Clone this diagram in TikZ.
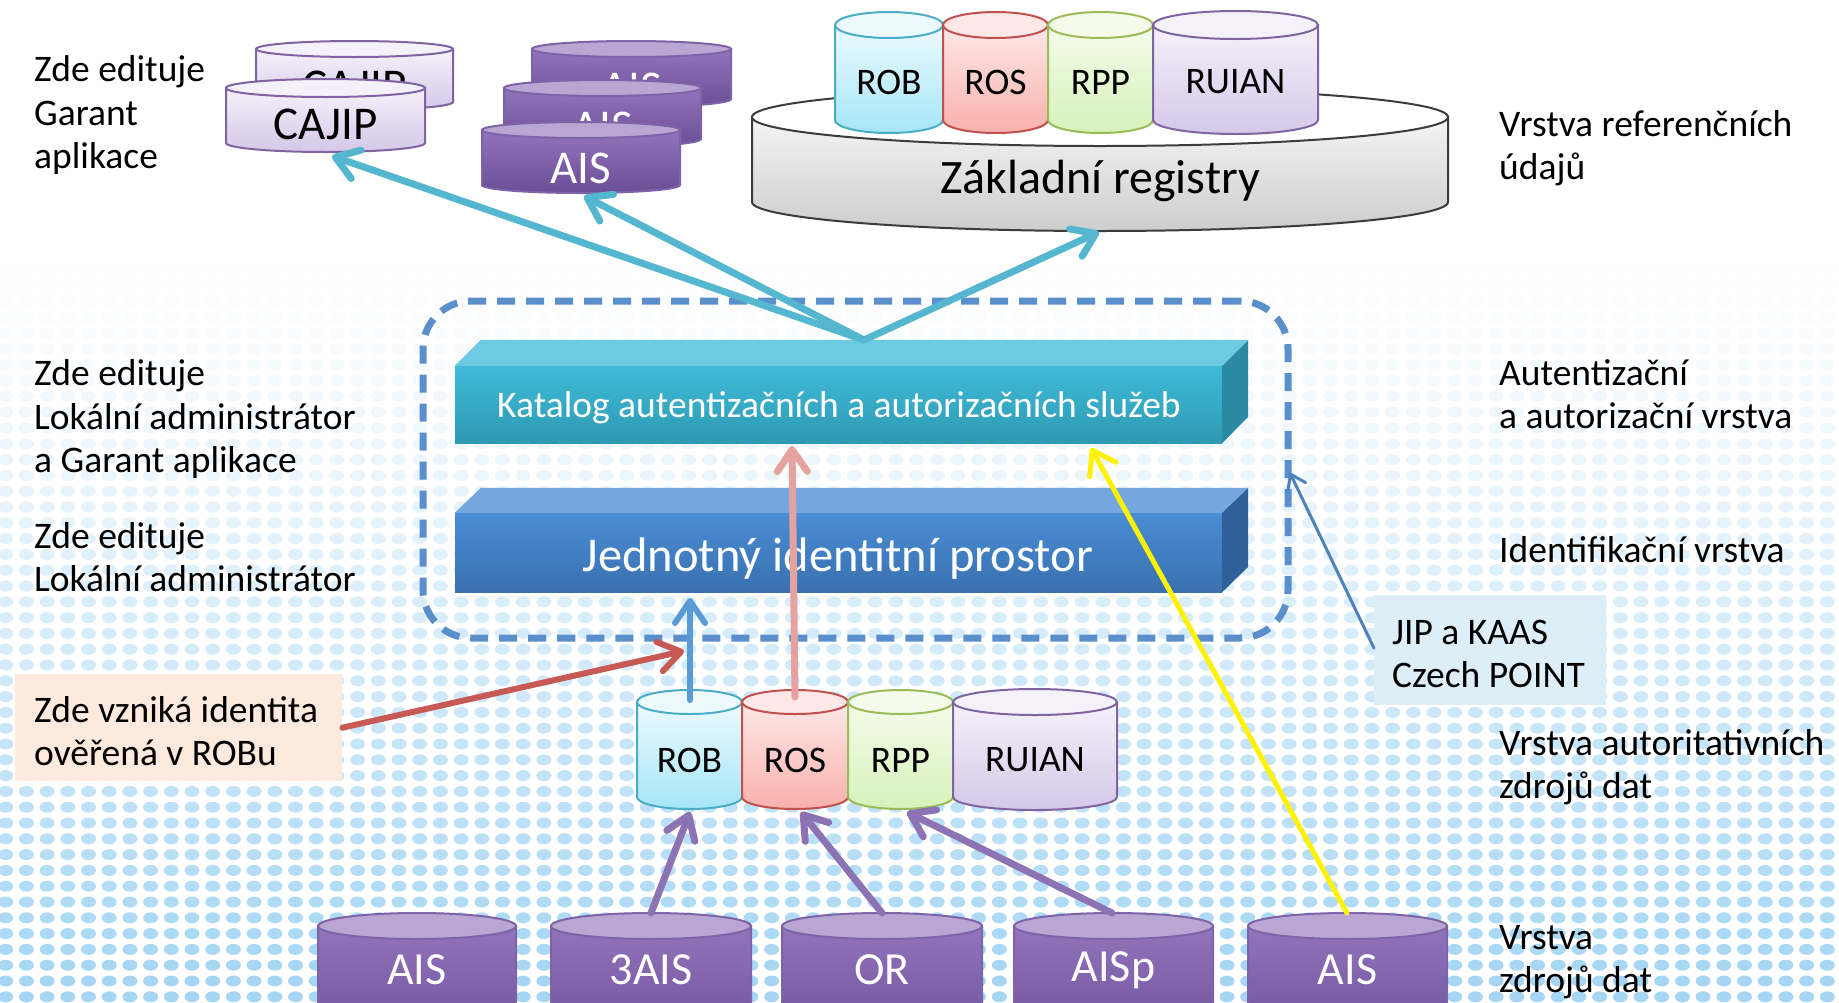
\documentclass[tikz,border=0pt]{standalone}
\usepackage{fontspec}
\setmainfont{Carlito}
\usetikzlibrary{arrows.meta}
\definecolor{dotc}{RGB}{166,214,244}
\definecolor{peach}{RGB}{253,234,222}
\definecolor{jipfill}{RGB}{222,238,246}
\definecolor{dashc}{RGB}{91,143,203}
\definecolor{cyanarr}{RGB}{85,183,207}
\definecolor{bluearr}{RGB}{91,155,213}
\definecolor{redarr}{RGB}{200,90,85}
\definecolor{pinkarr}{RGB}{229,163,160}
\definecolor{purarr}{RGB}{140,115,180}
\definecolor{jiparr}{RGB}{79,129,189}
% cylinder colours
\definecolor{robT}{RGB}{236,250,254}\definecolor{robB}{RGB}{166,230,248}\definecolor{robD}{RGB}{75,172,198}
\definecolor{rosT}{RGB}{253,232,231}\definecolor{rosB}{RGB}{248,176,172}\definecolor{rosD}{RGB}{192,80,77}
\definecolor{rppT}{RGB}{244,251,234}\definecolor{rppB}{RGB}{214,242,186}\definecolor{rppD}{RGB}{155,187,89}
\definecolor{ruiT}{RGB}{245,241,250}\definecolor{ruiB}{RGB}{212,200,232}\definecolor{ruiD}{RGB}{128,100,162}
\definecolor{aisT}{RGB}{146,116,188}\definecolor{aisB}{RGB}{106,78,148}\definecolor{aisD}{RGB}{125,99,168}
\definecolor{aisE}{RGB}{185,166,211}
\definecolor{zrT}{RGB}{244,244,244}\definecolor{zrB}{RGB}{205,205,205}\definecolor{zrD}{RGB}{60,60,60}
\definecolor{katF1}{RGB}{64,186,216}\definecolor{katF2}{RGB}{46,154,178}
\definecolor{katTop}{RGB}{108,203,227}\definecolor{katSide}{RGB}{42,138,163}
\definecolor{jipF1}{RGB}{74,141,211}\definecolor{jipF2}{RGB}{57,112,176}
\definecolor{jipTop}{RGB}{115,167,221}\definecolor{jipSide}{RGB}{47,96,154}
% #1 x1, #2 x2, #3 ytop, #4 ybot, #5 ry, #6 body top, #7 body bottom, #8 border, #9 top ellipse fill
\newcommand\dbcyl[9]{%
  \pgfmathsetmacro\cxx{(#1+#2)/2}\pgfmathsetmacro\rxx{(#2-#1)/2}%
  \draw[draw=#8, line width=2pt, top color=#6, bottom color=#7]
    (#1,#3) -- (#1,#4) arc[start angle=180, end angle=0, x radius=\rxx, y radius=#5] -- (#2,#3) -- cycle;
  \draw[draw=#8, line width=2pt, fill=#9] (\cxx,#3) ellipse[x radius=\rxx, y radius=#5];
}
\begin{document}
\begin{tikzpicture}[x=1pt,y=-1pt,
  lbl/.style={anchor=west, align=left, inner sep=0pt, font=\fontsize{37.5}{43.5}\selectfont},
  cyltxt/.style={inner sep=0pt, font=\fontsize{37.5}{44}\selectfont},
  bigtxt/.style={inner sep=0pt, font=\fontsize{47}{54}\selectfont},
  lowtxt/.style={inner sep=0pt, font=\fontsize{46}{54}\selectfont, text=white},
  arr/.style={line cap=round, -{Straight Barb[length=22pt,width=30pt,round]}},
  cyanline/.style={arr, draw=cyanarr, line width=7pt},
  purline/.style={arr, draw=purarr, line width=7pt}]
\useasboundingbox (0,0) rectangle (1839,1002);
\clip (0,0) rectangle (1839,1002);
\fill[white] (0,0) rectangle (1839,1002);
% dotted background
\foreach \r in {0,...,46}{
  \pgfmathsetmacro\yy{270+\r*15.8}
  \pgfmathsetmacro\pp{100*(min(1,(\yy-255)/720))^1.2}
  \fill[dotc!\pp!white] \foreach \c in {0,...,89}{(5.7+\c*20.7,\yy) ellipse[x radius=7.5,y radius=5.5]};
}
% ---------- top layer ----------
\dbcyl{256}{453}{49}{102}{8}{ruiT}{ruiB}{ruiD}{ruiT}
\node[bigtxt] (cajipB) at (354.5,86) {CAJIP};
\dbcyl{226}{425}{88}{143}{9}{ruiT}{ruiB}{ruiD}{ruiT}
\node[bigtxt] (cajip) at (325.5,124) {CAJIP};
\dbcyl{532}{731}{49}{99}{8}{aisT}{aisB}{aisD}{aisE}
\node[bigtxt, white] (aisB1) at (631.5,88) {AIS};
\dbcyl{504}{701}{88}{139}{8}{aisT}{aisB}{aisD}{aisE}
\node[bigtxt, white] (aisB2) at (602.5,127) {AIS};
\dbcyl{482}{680}{130}{185}{8}{aisT}{aisB}{aisD}{aisE}
\node[bigtxt, white] (aisF) at (581,168) {AIS};
% Zakladni registry
\dbcyl{752}{1448}{117}{202}{29}{zrT}{zrB}{zrD}{white}
\node[inner sep=0pt, font=\fontsize{48}{56}\selectfont] (zr) at (1100,181) {Základní registry};
\dbcyl{835}{943}{25}{120}{13}{robT}{robB}{robD}{robT}
\node[cyltxt] (robT) at (889,82) {ROB};
\dbcyl{943}{1048}{25}{120}{13}{rosT}{rosB}{rosD}{rosT}
\node[cyltxt] (rosT) at (995.5,82) {ROS};
\dbcyl{1048}{1153}{25}{120}{13}{rppT}{rppB}{rppD}{rppT}
\node[cyltxt] (rppT) at (1100.5,82) {RPP};
\dbcyl{1153}{1318}{25}{120}{14}{ruiT}{ruiB}{ruiD}{ruiT}
\node[cyltxt] (ruiT) at (1235.5,82) {RUIAN};
% ---------- middle ----------
\node[draw=dashc, line width=7pt, dash pattern=on 18pt off 11pt, rounded corners=48pt,
      minimum width=865pt, minimum height=337pt, inner sep=0pt] (zone) at (855.5,469.5) {};
% Katalog box
\node[inner sep=0pt, minimum width=767pt, minimum height=77pt, top color=katF1, bottom color=katF2,
      text=white, font=\fontsize{37.5}{44}\selectfont] (kat) at (838.5,404.5) {};
\fill[katTop] (kat.north west) -- ++(26,-26) -- ++(767,0) -- (kat.north east) -- cycle;
\fill[katSide] (kat.north east) -- ++(26,-26) -- ++(0,77) -- (kat.south east) -- cycle;
\node[inner sep=0pt, text=white, font=\fontsize{37.5}{44}\selectfont] (katt) at (839,408) {Katalog autentizačních a autorizačních služeb};
% JIP box
\node[inner sep=0pt, minimum width=767pt, minimum height=79pt, top color=jipF1, bottom color=jipF2] (jip) at (838.5,552.5) {};
\fill[jipTop] (jip.north west) -- ++(26,-25) -- ++(767,0) -- (jip.north east) -- cycle;
\fill[jipSide] (jip.north east) -- ++(26,-25) -- ++(0,79) -- (jip.south east) -- cycle;
\node[inner sep=0pt, text=white, font=\fontsize{48.5}{56}\selectfont] (jipt2) at (838,559) {Jednotný identitní prostor};
% ---------- authoritative sources ----------
\dbcyl{637}{742}{702}{797}{12}{robT}{robB}{robD}{robT}
\node[cyltxt] (rob) at (689.5,760) {ROB};
\dbcyl{742}{848}{702}{797}{12}{rosT}{rosB}{rosD}{rosT}
\node[cyltxt] (ros) at (795,760) {ROS};
\dbcyl{848}{953}{702}{797}{12}{rppT}{rppB}{rppD}{rppT}
\node[cyltxt] (rpp) at (900.5,760) {RPP};
\dbcyl{953}{1117}{702}{797}{13}{ruiT}{ruiB}{ruiD}{ruiT}
\node[cyltxt] (rui) at (1035,760) {RUIAN};
% ---------- data sources ----------
\dbcyl{318}{516}{926}{1040}{13}{aisT}{aisB}{aisD}{aisE}
\node[lowtxt] (s1) at (417,970) {AIS};
\dbcyl{551}{751}{926}{1040}{13}{aisT}{aisB}{aisD}{aisE}
\node[lowtxt] (s2) at (651,970) {3AIS};
\dbcyl{782}{982}{926}{1040}{13}{aisT}{aisB}{aisD}{aisE}
\node[lowtxt] (s3) at (882,970) {OR};
\dbcyl{1014}{1213}{926}{1040}{13}{aisT}{aisB}{aisD}{aisE}
\node[lowtxt] (s4) at (1113.5,970) {AISp};
\dbcyl{1248}{1447}{926}{1040}{13}{aisT}{aisB}{aisD}{aisE}
\node[lowtxt] (s5) at (1347.5,970) {AIS};
% ---------- labels ----------
\node[lbl] (l1) at (34,115) {Zde edituje\\Garant\\aplikace};
\node[lbl] (l2) at (34,419) {Zde edituje\\Lokální administrátor\\a Garant aplikace};
\node[lbl] (l3) at (34,557) {Zde edituje\\Lokální administrátor};
\node[fill=peach, anchor=north west, minimum width=327pt, minimum height=107pt, inner sep=0pt] (vznik) at (15,674) {};
\node[lbl] (vznikt) at (34,731) {Zde vzniká identita\\ověřená v ROBu};
\node[lbl] (r1) at (1499,148) {Vrstva referenčních\\údajů};
\node[lbl] (r2) at (1499,394) {Autentizační\\a autorizační vrstva};
\node[lbl] (r3) at (1499,550) {Identifikační vrstva};
\node[lbl] (r4) at (1499,767) {Vrstva autoritativních\\zdrojů dat};
\node[lbl] (r5) at (1499,962) {Vrstva\\zdrojů dat};
\node[fill=jipfill, anchor=north west, minimum width=232pt, minimum height=110pt, inner sep=0pt] (jipbox) at (1374,595) {};
\node[lbl] (jipt) at (1392,654) {JIP a KAAS\\Czech POINT};
% ---------- connector points ----------
\coordinate (katTopPt) at (864,340);
\coordinate (cajipBot) at (332,156);
\coordinate (aisBot) at (584,196);
\coordinate (zrBot) at (1099,232);
\coordinate (robTop) at (690,700);
\coordinate (jipBot) at (690,598);
\coordinate (rosTop) at (795,697);
\coordinate (katBot1) at (792,446);
\coordinate (katBot2) at (1091,448);
\coordinate (s5Top) at (1347,913);
\coordinate (redTip) at (684,651);
\coordinate (zoneE) at (1290,473);
\coordinate (robBot) at (690,812);
\coordinate (rosBot) at (801,812);
\coordinate (rppBot) at (907,812);
\coordinate (s2Top) at (651,913);
\coordinate (s3Top) at (882,913);
\coordinate (s4Top) at (1112,913);
% ---------- arrows ----------
\draw[purline] (s2Top) -- (robBot);
\draw[purline] (s3Top) -- (rosBot);
\draw[purline] (s4Top) -- (rppBot);
\draw[arr, draw=bluearr, line width=6pt] (robTop) -- (jipBot);
\draw[arr, draw=redarr, line width=6pt] (vznik.east) -- (redTip);
\draw[arr, draw=pinkarr, line width=7pt] (rosTop) -- (katBot1);
\draw[arr, draw=yellow, line width=5pt] (s5Top) -- (katBot2);
\draw[line cap=round, -{Straight Barb[length=14pt,width=20pt,round]}, draw=jiparr, line width=3pt] (jipbox.west) ++(0,-2) -- (zoneE);
\draw[cyanline] (katTopPt) -- (cajipBot);
\draw[cyanline] (katTopPt) -- (aisBot);
\draw[cyanline] (katTopPt) -- (zrBot);
\end{tikzpicture}
\end{document}
